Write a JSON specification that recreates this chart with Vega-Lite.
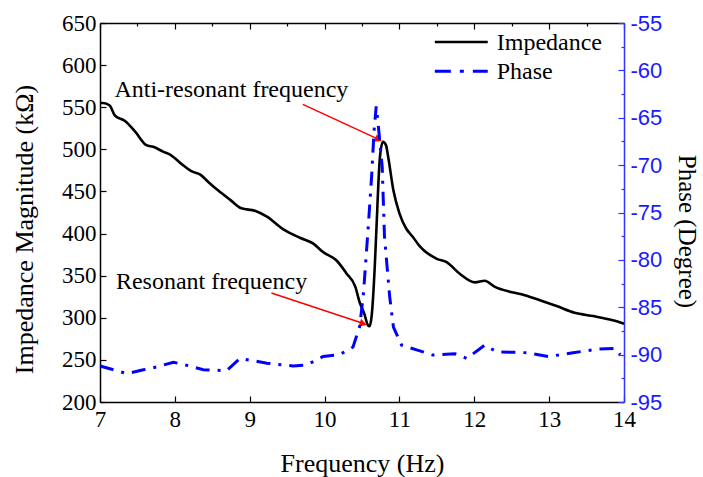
{
  "$schema": "https://vega.github.io/schema/vega-lite/v6.json",
  "width": 524,
  "height": 379,
  "autosize": "none",
  "padding": {"left": 100, "top": 23, "right": 79, "bottom": 75},
  "background": "white",
  "config": {
    "view": {"stroke": null},
    "axis": {"grid": false, "labelFont": "Liberation Serif", "titleFont": "Liberation Serif", "titleFontWeight": "normal", "labelColor": "black", "titleColor": "black", "domainColor": "black", "tickColor": "black", "domainWidth": 1.5, "tickWidth": 1.2}
  },
  "datasets": {
    "imp": [
      {"f": 7.0, "z": 555}, {"f": 7.04, "z": 555}, {"f": 7.13, "z": 552}, {"f": 7.2, "z": 540}, {"f": 7.33, "z": 534},
      {"f": 7.47, "z": 521}, {"f": 7.62, "z": 505}, {"f": 7.71, "z": 503}, {"f": 7.85, "z": 497}, {"f": 7.93, "z": 494},
      {"f": 8.11, "z": 481}, {"f": 8.22, "z": 474}, {"f": 8.34, "z": 470}, {"f": 8.45, "z": 461}, {"f": 8.58, "z": 451},
      {"f": 8.74, "z": 440}, {"f": 8.89, "z": 430}, {"f": 9.07, "z": 427}, {"f": 9.23, "z": 420}, {"f": 9.45, "z": 405},
      {"f": 9.67, "z": 395}, {"f": 9.85, "z": 388}, {"f": 9.98, "z": 378}, {"f": 10.16, "z": 368}, {"f": 10.29, "z": 353},
      {"f": 10.41, "z": 337}, {"f": 10.47, "z": 318}, {"f": 10.53, "z": 305}, {"f": 10.58, "z": 291}, {"f": 10.6, "z": 290},
      {"f": 10.63, "z": 303}, {"f": 10.67, "z": 360}, {"f": 10.69, "z": 400}, {"f": 10.74, "z": 491}, {"f": 10.78, "z": 509},
      {"f": 10.82, "z": 505}, {"f": 10.85, "z": 491}, {"f": 10.92, "z": 451}, {"f": 11.0, "z": 424}, {"f": 11.09, "z": 406},
      {"f": 11.18, "z": 396}, {"f": 11.27, "z": 385}, {"f": 11.5, "z": 370}, {"f": 11.63, "z": 366}, {"f": 11.81, "z": 352},
      {"f": 12.01, "z": 342}, {"f": 12.14, "z": 344}, {"f": 12.27, "z": 337}, {"f": 12.47, "z": 331}, {"f": 12.63, "z": 328},
      {"f": 12.87, "z": 321}, {"f": 13.1, "z": 314}, {"f": 13.34, "z": 306}, {"f": 13.59, "z": 302}, {"f": 13.85, "z": 297},
      {"f": 14.0, "z": 293}
    ],
    "phase": [
      {"f": 7.0, "p": -91.2}, {"f": 7.36, "p": -92.0}, {"f": 7.58, "p": -91.6}, {"f": 7.76, "p": -91.3}, {"f": 7.98, "p": -90.8},
      {"f": 8.2, "p": -91.2}, {"f": 8.38, "p": -91.6}, {"f": 8.69, "p": -91.7}, {"f": 8.87, "p": -90.4}, {"f": 9.23, "p": -90.9},
      {"f": 9.58, "p": -91.2}, {"f": 9.76, "p": -91.1}, {"f": 9.98, "p": -90.2}, {"f": 10.2, "p": -90.0}, {"f": 10.38, "p": -89.2},
      {"f": 10.47, "p": -87.0}, {"f": 10.52, "p": -83.5}, {"f": 10.58, "p": -76.9}, {"f": 10.63, "p": -71.0}, {"f": 10.66, "p": -66.5},
      {"f": 10.69, "p": -63.8}, {"f": 10.72, "p": -66.0}, {"f": 10.77, "p": -70.2}, {"f": 10.8, "p": -77.5}, {"f": 10.87, "p": -83.9},
      {"f": 10.92, "p": -87.1}, {"f": 11.03, "p": -89.0}, {"f": 11.23, "p": -89.5}, {"f": 11.45, "p": -90.05}, {"f": 11.74, "p": -89.9},
      {"f": 11.9, "p": -90.4}, {"f": 12.14, "p": -89.0}, {"f": 12.3, "p": -89.7}, {"f": 12.7, "p": -89.8}, {"f": 12.99, "p": -90.2},
      {"f": 13.32, "p": -89.8}, {"f": 13.67, "p": -89.4}, {"f": 13.88, "p": -89.35}, {"f": 13.95, "p": -90.0}
    ],
    "arrows": [
      {"f1": 9.71, "z1": 553.4, "f2": 10.73, "z2": 511.5, "fh": 10.72, "zh": 511.6, "ang": 25},
      {"f1": 9.29, "z1": 329.3, "f2": 10.52, "z2": 293.3, "fh": 10.517, "zh": 292.9, "ang": 18.5}
    ],
    "labels": [
      {"f": 8.755, "z": 562, "t": "Anti-resonant frequency"},
      {"f": 8.49, "z": 334.6, "t": "Resonant frequency"}
    ],
    "legend": [
      {"s": "Impedance", "f1": 11.473, "f2": 12.18, "zl": 627.4, "ft": 12.30, "zt": 617.6},
      {"s": "Phase", "f1": 11.473, "f2": 12.18, "zl": 592.6, "ft": 12.30, "zt": 584}
    ]
  },
  "layer": [
    {
      "layer": [
        {
          "data": {"name": "imp"},
          "mark": {"type": "line", "color": "black", "strokeWidth": 2.6, "interpolate": "monotone"},
          "encoding": {
            "x": {"field": "f", "type": "quantitative", "scale": {"domain": [7, 14], "nice": false, "zero": false},
              "axis": {"orient": "bottom", "title": "Frequency (Hz)", "values": [7, 7.5, 8, 8.5, 9, 9.5, 10, 10.5, 11, 11.5, 12, 12.5, 13, 13.5, 14],
                "labelExpr": "datum.value % 1 == 0 ? '' + datum.value : ''",
                "tickSize": {"condition": {"test": "datum.value % 1 != 0", "value": -3}, "value": -6},
                "labelFontSize": 23, "titleFontSize": 26, "labelPadding": 12, "titlePadding": 19, "labelFlush": false}},
            "y": {"field": "z", "type": "quantitative", "scale": {"domain": [200, 650], "nice": false, "zero": false},
              "axis": {"orient": "left", "title": "Impedance Magnitude (kΩ)", "values": [200, 225, 250, 275, 300, 325, 350, 375, 400, 425, 450, 475, 500, 525, 550, 575, 600, 625, 650],
                "labelExpr": "datum.value % 50 == 0 ? datum.label : ''",
                "tickSize": {"condition": {"test": "datum.value % 50 != 0", "value": -3}, "value": -6},
                "labelFontSize": 23, "titleFontSize": 26, "labelPadding": 10, "titlePadding": 24, "titleY": 206, "labelFlush": false}}
          }
        },
        {
          "data": {"name": "arrows"},
          "mark": {"type": "rule", "color": "#ff0000", "strokeWidth": 1.6},
          "encoding": {
            "x": {"field": "f1", "type": "quantitative"},
            "y": {"field": "z1", "type": "quantitative"},
            "x2": {"field": "f2"},
            "y2": {"field": "z2"}
          }
        },
        {
          "data": {"name": "arrows"},
          "mark": {"type": "point", "shape": "triangle-right", "filled": true, "color": "#ff0000", "size": 70, "opacity": 1},
          "encoding": {
            "x": {"field": "fh", "type": "quantitative"},
            "y": {"field": "zh", "type": "quantitative"},
            "angle": {"field": "ang", "type": "quantitative", "scale": null}
          }
        },
        {
          "data": {"name": "labels"},
          "mark": {"type": "text", "font": "Liberation Serif", "fontSize": 24, "align": "center", "baseline": "alphabetic", "color": "black"},
          "encoding": {
            "x": {"field": "f", "type": "quantitative"},
            "y": {"field": "z", "type": "quantitative"},
            "text": {"field": "t"}
          }
        },
        {
          "data": {"name": "legend"},
          "transform": [{"filter": "datum.s == 'Impedance'"}],
          "mark": {"type": "rule", "color": "black", "strokeWidth": 2.6},
          "encoding": {
            "x": {"field": "f1", "type": "quantitative"},
            "y": {"field": "zl", "type": "quantitative"},
            "x2": {"field": "f2"}
          }
        },
        {
          "data": {"name": "legend"},
          "transform": [{"filter": "datum.s == 'Phase'"}],
          "mark": {"type": "rule", "color": "#0000ff", "strokeWidth": 3, "strokeDash": [16, 9, 4, 9]},
          "encoding": {
            "x": {"field": "f1", "type": "quantitative"},
            "y": {"field": "zl", "type": "quantitative"},
            "x2": {"field": "f2"}
          }
        },
        {
          "data": {"name": "legend"},
          "mark": {"type": "text", "font": "Liberation Serif", "fontSize": 24, "align": "left", "baseline": "alphabetic", "color": "black"},
          "encoding": {
            "x": {"field": "ft", "type": "quantitative"},
            "y": {"field": "zt", "type": "quantitative"},
            "text": {"field": "s"}
          }
        }
      ]
    },
    {
      "data": {"name": "phase"},
      "mark": {"type": "line", "color": "#0000ff", "strokeWidth": 3, "strokeDash": [14, 8, 3, 8]},
      "encoding": {
        "x": {"field": "f", "type": "quantitative", "scale": {"domain": [7, 14], "nice": false, "zero": false},
          "axis": {"orient": "top", "title": null, "labels": false, "values": [7, 7.5, 8, 8.5, 9, 9.5, 10, 10.5, 11, 11.5, 12, 12.5, 13, 13.5, 14],
            "tickSize": {"condition": {"test": "datum.value % 1 != 0", "value": -3}, "value": -6}}},
        "y": {"field": "p", "type": "quantitative", "scale": {"domain": [-95, -55], "nice": false, "zero": false},
          "axis": {"orient": "right", "title": "Phase (Degree)", "titleAngle": 90, "values": [-95, -92.5, -90, -87.5, -85, -82.5, -80, -77.5, -75, -72.5, -70, -67.5, -65, -62.5, -60, -57.5, -55],
            "labelExpr": "datum.value % 5 == 0 ? '' + datum.value : ''",
            "tickSize": {"condition": {"test": "datum.value % 5 != 0", "value": -3}, "value": -6},
            "domainColor": "#3333ff", "tickColor": "#3333ff", "labelColor": "#1a1aff", "labelFont": "Liberation Sans",
            "labelFontSize": 22, "titleFontSize": 25, "labelPadding": 12, "titlePadding": 12, "titleY": 208, "labelFlush": false}}
      }
    }
  ],
  "resolve": {"scale": {"y": "independent"}}
}
